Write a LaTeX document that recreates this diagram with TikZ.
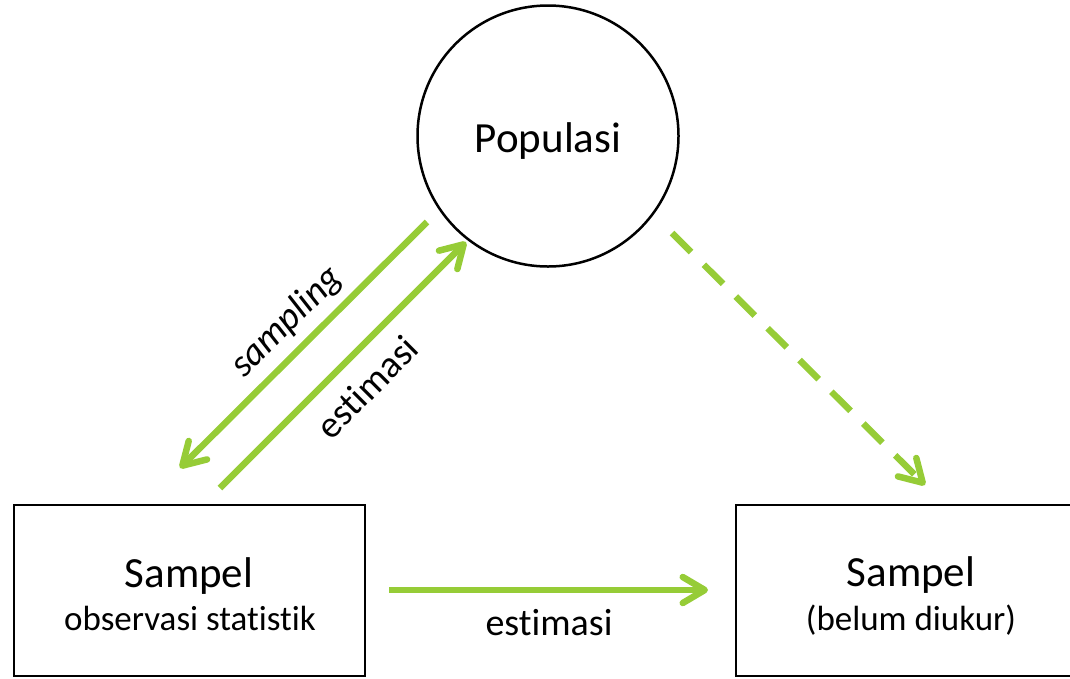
\documentclass[tikz,border=0pt]{standalone}
\usepackage{fontspec}
\setmainfont{Carlito}[Ligatures={NoCommon,NoContextual}, RawFeature={-liga;-clig;-calt}]
\usetikzlibrary{arrows.meta}
\definecolor{lgreen}{RGB}{150,204,55}
\begin{document}
\begin{tikzpicture}[x=1pt,y=-1pt,
  garrow/.style={draw=lgreen, line width=6.5pt, -{Straight Barb[length=22pt,width=26pt,round]}},
  dasharrow/.style={garrow, dash pattern=on 27pt off 18pt},
  box/.style={draw, line width=2.5pt, minimum width=351pt, minimum height=171pt, inner sep=0pt},
  big/.style={anchor=base, font=\fontsize{43}{50}\selectfont, inner sep=0pt},
  small/.style={anchor=base, font=\fontsize{35}{42}\selectfont, inner sep=0pt},
  mid/.style={font=\fontsize{38}{45}\selectfont, inner sep=0pt}]
\useasboundingbox (0,0) rectangle (1070,678);
\node[circle, draw, line width=2.5pt, minimum size=261pt, inner sep=0pt] (pop) at (548,136) {};
\node[big] (poptext) at (548,152) {Populasi};
\node[box] (s1) at (189.5,590.5) {};
\node[box] (s2) at (911.5,590.5) {};
\node[big] (s1a) at (189,587) {Sampel};
\node[small] (s1b) at (190,630) {observasi statistik};
\node[big] (s2a) at (911,586) {Sampel};
\node[small] (s2b) at (911,630) {(belum diukur)};
\coordinate (sampA) at (427,222);
\coordinate (sampB) at (180,468);
\coordinate (estA) at (220,488);
\coordinate (estB) at (466,242);
\coordinate (dashA) at (672,233);
\coordinate (dashB) at (925,485);
\coordinate (horA) at (389,590);
\coordinate (horB) at (708,590);
\draw[garrow] (sampA) -- (sampB);
\draw[garrow] (estA) -- (estB);
\draw[dasharrow] (dashA) -- (dashB);
\draw[garrow] (horA) -- (horB);
\node[mid, rotate=45, font=\fontsize{38}{45}\selectfont\itshape] (lsamp) at (287,322) {sampling};
\node[mid, rotate=45] (lest) at (367,387) {estimasi};
\node[mid, anchor=base] (lest2) at (549,635) {estimasi};
\end{tikzpicture}
\end{document}
